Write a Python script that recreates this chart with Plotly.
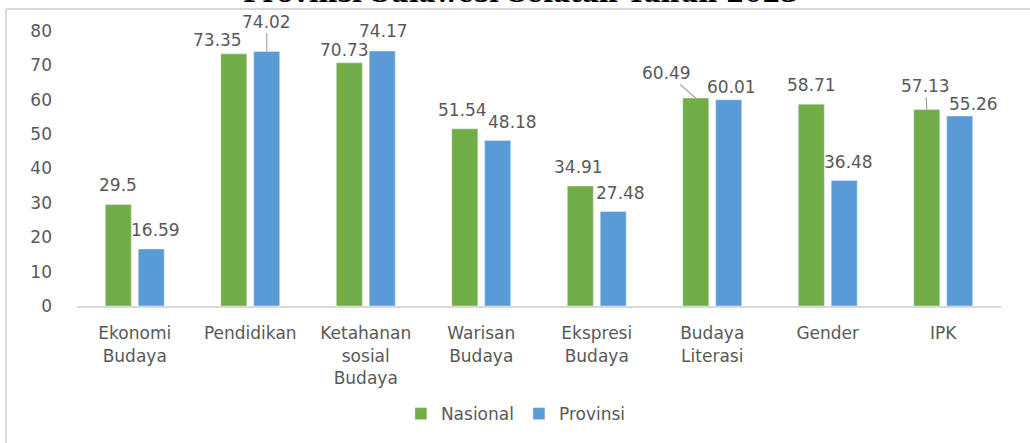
import plotly.graph_objects as go

categories = ["Ekonomi<br>Budaya", "Pendidikan", "Ketahanan<br>sosial<br>Budaya", "Warisan<br>Budaya",
              "Ekspresi<br>Budaya", "Budaya<br>Literasi", "Gender", "IPK"]
nasional = [29.5, 73.35, 70.73, 51.54, 34.91, 60.49, 58.71, 57.13]
provinsi = [16.59, 74.02, 74.17, 48.18, 27.48, 60.01, 36.48, 55.26]
nasional_labels = ["29.5", "73.35", "70.73", "51.54", "34.91", "60.49", "58.71", "57.13"]
provinsi_labels = ["16.59", "74.02", "74.17", "48.18", "27.48", "60.01", "36.48", "55.26"]
y_ticks = [0, 10, 20, 30, 40, 50, 60, 70, 80]

# label nudges (pixels): (dx, dy_up, leader)
nas_nudge = [(0, 20, False), (-16, 14, False), (-5, 13, False), (-2, 19, False),
             (-2, 19, False), (-29, 25, True), (0, 19, False), (-1, 24, True)]
prov_nudge = [(4, 19, False), (0, 30, True), (1, 20, False), (15, 18, False),
              (7, 19, False), (3, 13, False), (4, 19, False), (14, 12, False)]

GREEN = "#70AD47"
BLUE = "#5B9BD5"
TXT = "#595959"
FONT = "DejaVu Sans"

fig = go.Figure()
fig.add_trace(go.Bar(name="Nasional", x=categories, y=nasional, marker_color=GREEN))
fig.add_trace(go.Bar(name="Provinsi", x=categories, y=provinsi, marker_color=BLUE))

annotations = []
for series, labels, nudges, off in [(nasional, nasional_labels, nas_nudge, -16.5),
                                    (provinsi, provinsi_labels, prov_nudge, 16.5)]:
    for c, v, t, (dx, dy, leader) in zip(categories, series, labels, nudges):
        if leader:
            annotations.append(dict(x=c, y=v, xref="x", yref="y", text=t, xshift=off,
                                    showarrow=True, arrowhead=0, arrowwidth=1.2,
                                    arrowcolor="#A6A6A6", ax=dx, ay=-dy, standoff=0,
                                    font=dict(family=FONT, size=17, color=TXT)))
        else:
            annotations.append(dict(x=c, y=v, xref="x", yref="y", text=t,
                                    xshift=off + dx, yshift=dy, showarrow=False,
                                    xanchor="center", yanchor="middle",
                                    font=dict(family=FONT, size=17, color=TXT)))

# partially visible title at top
annotations.append(dict(x=0.4805, y=1.076, xref="paper", yref="paper",
                        text="<b>Provinsi Sulawesi Selatan Tahun 2023</b>",
                        showarrow=False, xanchor="center", yanchor="bottom",
                        font=dict(family="DejaVu Serif", size=26, color="#000000")))

fig.update_layout(
    width=1030, height=443,
    margin=dict(l=77, r=29, t=31, b=136),
    paper_bgcolor="white", plot_bgcolor="white",
    barmode="group", bargap=0.43, bargroupgap=0.21,
    showlegend=True,
    legend=dict(orientation="h", x=0.475, xanchor="center", y=-0.388, yanchor="middle",
                font=dict(family=FONT, size=17, color=TXT), itemwidth=30,
                traceorder="normal"),
    annotations=annotations,
    shapes=[
        dict(type="line", xref="paper", yref="paper", x0=-0.0768, x1=1.04, y0=1.0797, y1=1.0797,
             line=dict(color="#D9D9D9", width=2)),
        dict(type="line", xref="paper", yref="paper", x0=-0.0768, x1=-0.0768, y0=1.0797, y1=-0.5,
             line=dict(color="#D9D9D9", width=2)),
    ],
)
fig.update_xaxes(showline=True, linecolor="#D9D9D9", linewidth=2, showgrid=False,
                 tickfont=dict(family=FONT, size=17, color=TXT), ticks="", ticklabelstandoff=11)
fig.update_yaxes(range=[0, 80], tickvals=y_ticks, showgrid=False, zeroline=False,
                 showline=False, tickfont=dict(family=FONT, size=17, color=TXT),
                 ticklabelstandoff=24)

fig.write_html("out.html", config={"displayModeBar": False},
               post_script="document.body.style.margin='0';document.body.style.overflow='hidden';")
